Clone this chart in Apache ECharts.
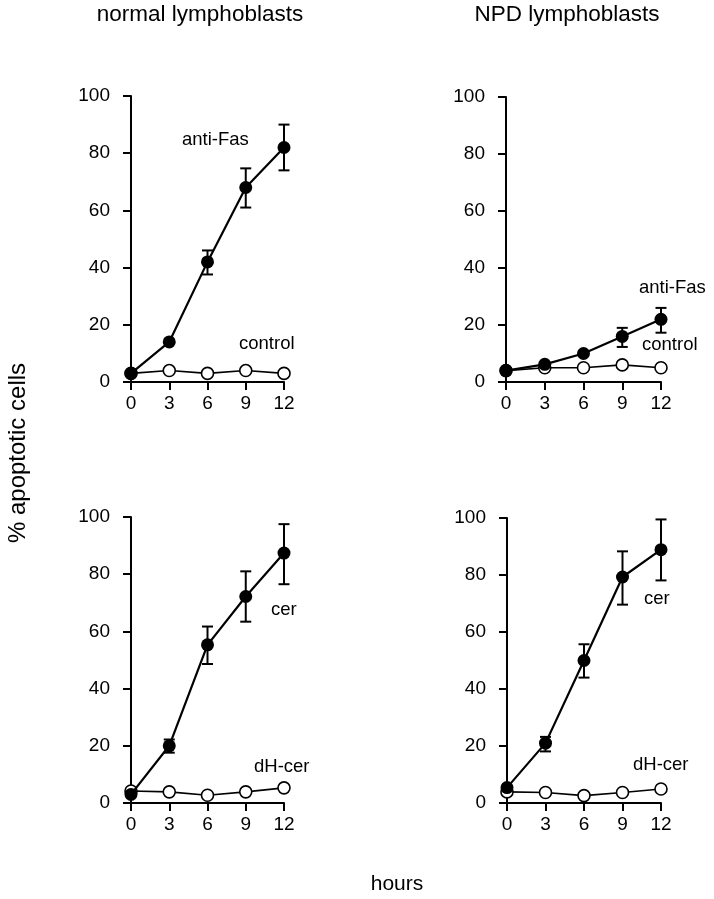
<!DOCTYPE html>
<html><head><meta charset="utf-8">
<script src="https://cdn.jsdelivr.net/npm/echarts@6/dist/echarts.min.js"></script>
<style>html,body{margin:0;padding:0;background:#fff}#c{width:714px;height:899px}</style>
</head><body><div id="c"></div>
<script>
// ---- data ----
const hours = [0, 3, 6, 9, 12];
const xTicks = [0, 3, 6, 9, 12];
const yTicks = [0, 20, 40, 60, 80, 100];

const normalAntiFas     = [3, 14, 42, 68, 82];
const normalAntiFasLow  = [3, 14, 37.6, 61, 74];
const normalAntiFasHigh = [3, 14, 46, 74.7, 90];
const normalControl     = [3, 4, 3, 4, 3];

const npdAntiFas     = [4, 6.2, 10, 16, 22];
const npdAntiFasLow  = [4, 6.2, 10, 12.3, 17.3];
const npdAntiFasHigh = [4, 6.2, 10, 19, 26];
const npdControl     = [4, 5, 5, 6, 5];

const normalCer     = [3, 20, 55.3, 72.2, 87.4];
const normalCerLow  = [3, 17.6, 48.6, 63.4, 76.5];
const normalCerHigh = [3, 22.2, 61.7, 81, 97.5];
const normalDhCer   = [4.2, 3.9, 2.7, 3.9, 5.3];

const npdCer     = [5.4, 21, 50, 79.3, 88.9];
const npdCerLow  = [5.4, 18.1, 44, 69.6, 78.1];
const npdCerHigh = [5.4, 23.2, 55.7, 88.3, 99.5];
const npdDhCer   = [3.9, 3.7, 2.6, 3.7, 4.9];

const panelTitles = ['normal lymphoblasts', 'NPD lymphoblasts'];
const yTitle = '% apoptotic cells';
const xTitle = 'hours';

const panels = [
  {filled: normalAntiFas, low: normalAntiFasLow, high: normalAntiFasHigh, open: normalControl,
   filledName: 'anti-Fas', openName: 'control'},
  {filled: npdAntiFas, low: npdAntiFasLow, high: npdAntiFasHigh, open: npdControl,
   filledName: 'anti-Fas', openName: 'control'},
  {filled: normalCer, low: normalCerLow, high: normalCerHigh, open: normalDhCer,
   filledName: 'cer', openName: 'dH-cer'},
  {filled: npdCer, low: npdCerLow, high: npdCerHigh, open: npdDhCer,
   filledName: 'cer', openName: 'dH-cer'}
];

// ---- layout ----
const grids = [
  {left: 131, top: 96, width: 153, height: 286},
  {left: 506, top: 97, width: 155, height: 285},
  {left: 131, top: 517, width: 153, height: 286},
  {left: 507, top: 518, width: 154, height: 285}
];
const labelPos = [
  [[182, 140], [239, 344]],
  [[639, 288], [642, 345]],
  [[271, 610], [254, 767]],
  [[644, 599], [633, 765]]
];

const FONT = '"Liberation Sans", Arial, Helvetica, sans-serif';
const black = '#000';

const xAxes = [], yAxes = [], series = [], graphics = [];
grids.forEach((g, i) => {
  xAxes.push({
    gridIndex: i, type: 'value', min: xTicks[0], max: xTicks[xTicks.length - 1], interval: 3,
    axisLine: {show: true, onZero: false, lineStyle: {color: black, width: 2}},
    axisTick: {show: true, length: 8, lineStyle: {color: black, width: 2}},
    axisLabel: {color: black, fontFamily: FONT, fontSize: 19, margin: 12},
    splitLine: {show: false}
  });
  yAxes.push({
    gridIndex: i, type: 'value', min: yTicks[0], max: yTicks[yTicks.length - 1], interval: 20,
    axisLine: {show: true, onZero: false, lineStyle: {color: black, width: 2}},
    axisTick: {show: true, length: 8, lineStyle: {color: black, width: 2}},
    axisLabel: {color: black, fontFamily: FONT, fontSize: 19, margin: 21},
    splitLine: {show: false}
  });
  const p = panels[i];
  // error bars
  series.push({
    type: 'custom', xAxisIndex: i, yAxisIndex: i, z: 2, silent: true,
    data: hours.map((h, k) => [h, p.low[k], p.high[k]]),
    renderItem: function (params, api) {
      const lo = api.value(1), hi = api.value(2);
      if (lo === hi) return null;
      const a = api.coord([api.value(0), hi]);
      const b = api.coord([api.value(0), lo]);
      const w = 5.5;
      const st = {stroke: black, lineWidth: 2};
      return {type: 'group', children: [
        {type: 'line', shape: {x1: a[0], y1: a[1], x2: b[0], y2: b[1]}, style: st},
        {type: 'line', shape: {x1: a[0] - w, y1: a[1], x2: a[0] + w, y2: a[1]}, style: st},
        {type: 'line', shape: {x1: b[0] - w, y1: b[1], x2: b[0] + w, y2: b[1]}, style: st}
      ]};
    }
  });
  // open circles (control / dH-cer)
  series.push({
    type: 'line', name: p.openName, xAxisIndex: i, yAxisIndex: i, z: 3,
    data: hours.map((h, k) => [h, p.open[k]]),
    symbol: 'circle', symbolSize: 12, showAllSymbol: true,
    lineStyle: {color: black, width: 1.6},
    itemStyle: {color: '#fff', borderColor: black, borderWidth: 1.6},
    animation: false
  });
  // filled circles
  series.push({
    type: 'line', name: p.filledName, xAxisIndex: i, yAxisIndex: i, z: 4,
    data: hours.map((h, k) => [h, p.filled[k]]),
    symbol: 'circle', symbolSize: 13, showAllSymbol: true,
    lineStyle: {color: black, width: 2.2},
    itemStyle: {color: black, borderColor: black, borderWidth: 0},
    animation: false
  });
  // series labels
  graphics.push({type: 'text', x: labelPos[i][0][0], y: labelPos[i][0][1],
    style: {text: p.filledName, font: '18.5px ' + FONT, fill: black, verticalAlign: 'middle'}});
  graphics.push({type: 'text', x: labelPos[i][1][0], y: labelPos[i][1][1],
    style: {text: p.openName, font: '18.5px ' + FONT, fill: black, verticalAlign: 'middle'}});
});

graphics.push({type: 'text', x: 200, y: 15, style: {text: panelTitles[0], font: '22.5px ' + FONT, fill: black, align: 'center', verticalAlign: 'middle'}});
graphics.push({type: 'text', x: 567, y: 15, style: {text: panelTitles[1], font: '22.5px ' + FONT, fill: black, align: 'center', verticalAlign: 'middle'}});
graphics.push({type: 'text', x: 18, y: 453, rotation: Math.PI / 2,
  style: {text: yTitle, font: '24px ' + FONT, fill: black, align: 'center', verticalAlign: 'middle'}});
graphics.push({type: 'text', x: 397, y: 884,
  style: {text: xTitle, font: '21px ' + FONT, fill: black, align: 'center', verticalAlign: 'middle'}});

const chart = echarts.init(document.getElementById('c'), null, {renderer: 'canvas'});
chart.setOption({
  backgroundColor: '#fff',
  animation: false,
  grid: grids,
  xAxis: xAxes,
  yAxis: yAxes,
  series: series,
  graphic: graphics
});
</script>
</body></html>
